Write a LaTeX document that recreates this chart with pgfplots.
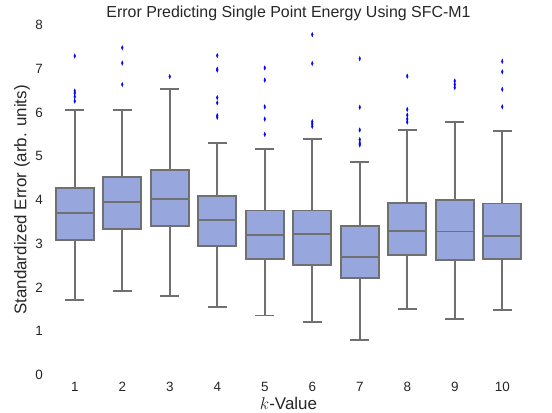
\documentclass[border=0pt]{standalone}
\usepackage{fontspec}
\setmainfont{Liberation Sans}
\usepackage{pgfplots}
\pgfplotsset{compat=1.18}
\usepgfplotslibrary{statistics}

\definecolor{boxblue}{RGB}{151,166,221}
\definecolor{edgegray}{RGB}{112,112,112}
\definecolor{txt}{RGB}{38,38,38}

\begin{document}
\begin{tikzpicture}
\begin{axis}[
  scale only axis,
  width=475bp, height=350bp,
  xmin=0.5, xmax=10.5, ymin=0, ymax=8,
  xtick={1,...,10}, ytick={0,...,8},
  axis line style={draw=none},
  major tick length=0pt,
  /pgf/number format/assume math mode=true,
  tick label style={font=\fontsize{13.5}{16}\selectfont, text=txt},
  yticklabel style={xshift=-4.5bp},
  xticklabel style={yshift=-3.5bp},
  title={Error Predicting Single Point Energy Using SFC-M1},
  title style={at={(axis description cs:0.5,1.003)}, anchor=base,
    font=\fontsize{16}{19}\selectfont, text=txt},
  xlabel={$k$-Value},
  xlabel style={at={(axis description cs:0.5,-0.1)}, anchor=base,
    font=\fontsize{17}{20}\selectfont, text=txt},
  ylabel={Standardized Error (arb. units)},
  ylabel style={at={(axis description cs:-0.0516,0.5)}, anchor=base,
    font=\fontsize{17}{20}\selectfont, text=txt},
  boxplot/draw direction=y,
  boxplot/box extend=0.8,
  boxplot/whisker extend=0.4,
  clip=false,
  bx/.style={draw=edgegray, fill=boxblue, line width=1.9bp,
    mark=diamond*, mark size=2.2bp,
    mark options={draw=blue, fill=blue, xscale=0.55, line width=0.3bp}},
]
\coordinate (ll) at (rel axis cs:0,0);
\coordinate (ur) at (rel axis cs:1,1);

% k = 1
\addplot[bx, boxplot prepared={draw position=1,
  lower whisker=1.72, lower quartile=3.08, median=3.71,
  upper quartile=4.27, upper whisker=6.06}]
  coordinates {(0,7.29) (0,6.49) (0,6.44) (0,6.36) (0,6.26)};
% k = 2
\addplot[bx, boxplot prepared={draw position=2,
  lower whisker=1.91, lower quartile=3.34, median=3.95,
  upper quartile=4.53, upper whisker=6.05}]
  coordinates {(0,7.48) (0,7.13) (0,6.64)};
% k = 3
\addplot[bx, boxplot prepared={draw position=3,
  lower whisker=1.81, lower quartile=3.40, median=4.02,
  upper quartile=4.69, upper whisker=6.53}]
  coordinates {(0,6.82)};
% k = 4
\addplot[bx, boxplot prepared={draw position=4,
  lower whisker=1.55, lower quartile=2.95, median=3.55,
  upper quartile=4.09, upper whisker=5.31}]
  coordinates {(0,7.30) (0,6.99) (0,6.97) (0,6.34) (0,6.22) (0,5.93) (0,5.89)};
% k = 5
\addplot[bx, boxplot prepared={draw position=5,
  lower whisker=1.36, lower quartile=2.66, median=3.21,
  upper quartile=3.76, upper whisker=5.16}]
  coordinates {(0,7.02) (0,6.74) (0,6.13) (0,5.85) (0,5.50)};
% k = 6
\addplot[bx, boxplot prepared={draw position=6,
  lower whisker=1.22, lower quartile=2.51, median=3.22,
  upper quartile=3.76, upper whisker=5.39}]
  coordinates {(0,7.78) (0,7.12) (0,5.79) (0,5.74) (0,5.68)};
% k = 7
\addplot[bx, boxplot prepared={draw position=7,
  lower whisker=0.80, lower quartile=2.22, median=2.69,
  upper quartile=3.41, upper whisker=4.87}]
  coordinates {(0,7.23) (0,6.12) (0,5.60) (0,5.38) (0,5.30) (0,5.26)};
% k = 8
\addplot[bx, boxplot prepared={draw position=8,
  lower whisker=1.51, lower quartile=2.74, median=3.30,
  upper quartile=3.93, upper whisker=5.61}]
  coordinates {(0,6.83) (0,6.07) (0,5.94) (0,5.85) (0,5.78)};
% k = 9
\addplot[bx, boxplot prepared={draw position=9,
  lower whisker=1.27, lower quartile=2.62, median=3.28,
  upper quartile=3.99, upper whisker=5.78}]
  coordinates {(0,6.72) (0,6.64) (0,6.57)};
% k = 10
\addplot[bx, boxplot prepared={draw position=10,
  lower whisker=1.49, lower quartile=2.65, median=3.18,
  upper quartile=3.92, upper whisker=5.58}]
  coordinates {(0,7.17) (0,6.93) (0,6.53) (0,6.13)};
\end{axis}
\pgfresetboundingbox
\path[use as bounding box] ([shift={(-51bp,-38bp)}]ll) rectangle ([shift={(26bp,25bp)}]ur);
\end{tikzpicture}
\end{document}
